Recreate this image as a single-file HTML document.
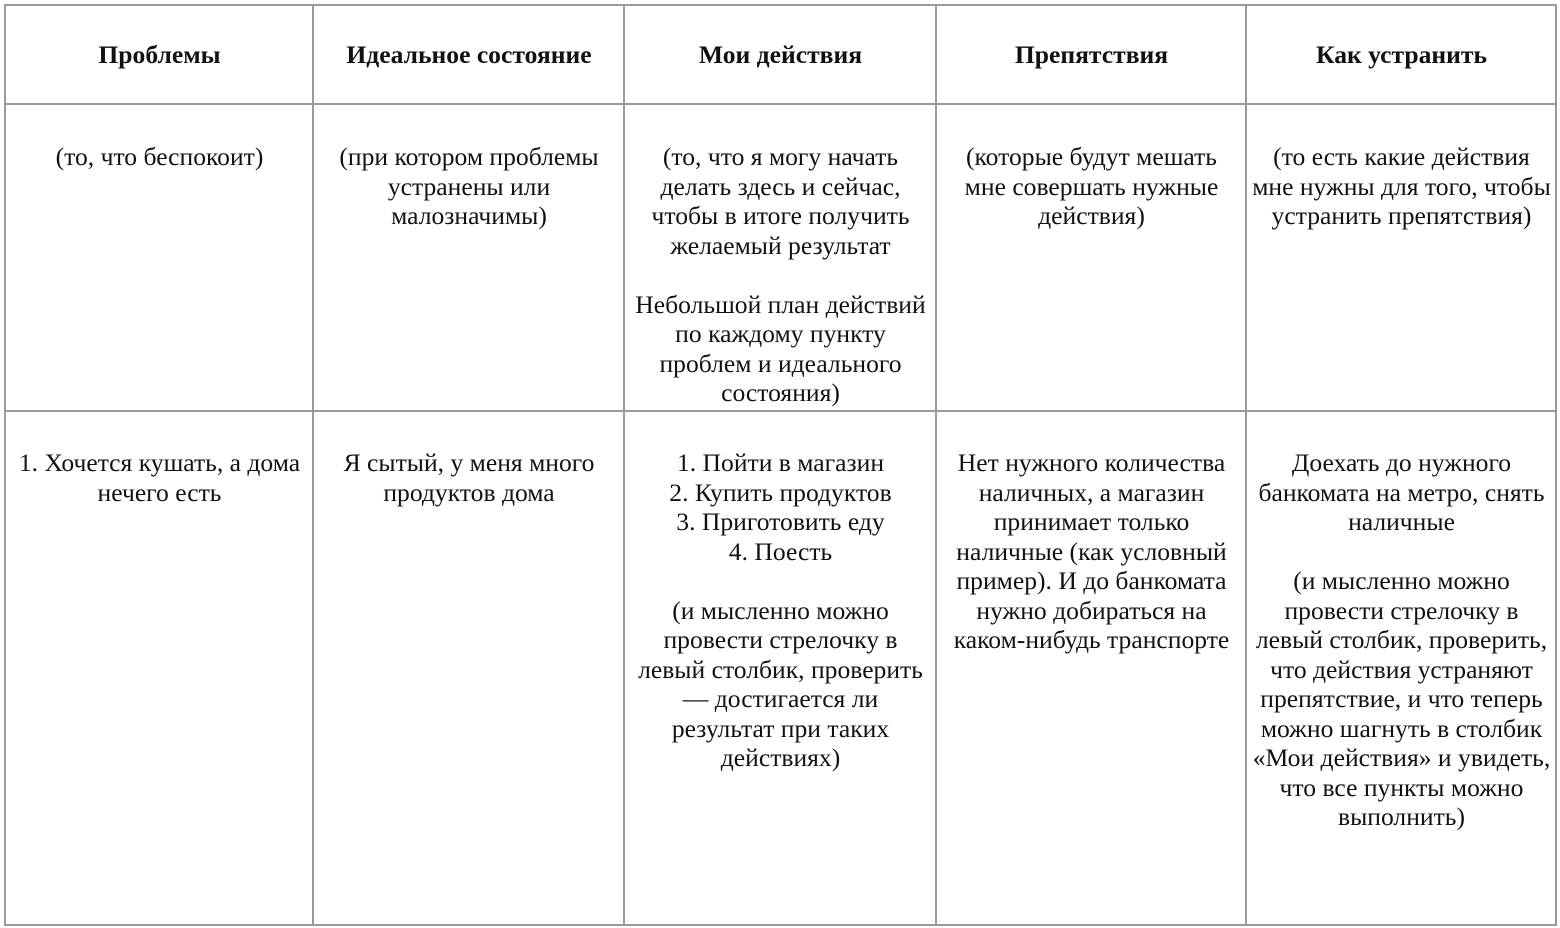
<!DOCTYPE html>
<html><head><meta charset="utf-8"><style>
html,body{margin:0;padding:0;background:#fff;width:1560px;height:928px;overflow:hidden}
.l{position:absolute;background:#9a9a9a}
.c{position:absolute;text-align:center;font-family:"Liberation Serif",serif;font-size:25.6px;line-height:29.5px;color:#111;white-space:nowrap}
.h{font-weight:bold}
</style></head><body>
<div class="l" style="left:5px;top:4px;width:1552px;height:2px"></div>
<div class="l" style="left:5px;top:103px;width:1552px;height:2px"></div>
<div class="l" style="left:5px;top:410px;width:1552px;height:2px"></div>
<div class="l" style="left:5px;top:924px;width:1552px;height:2px"></div>
<div class="l" style="left:4px;top:4px;width:2px;height:922px"></div>
<div class="l" style="left:312px;top:4px;width:2px;height:922px"></div>
<div class="l" style="left:623px;top:4px;width:2px;height:922px"></div>
<div class="l" style="left:935px;top:4px;width:2px;height:922px"></div>
<div class="l" style="left:1245px;top:4px;width:2px;height:922px"></div>
<div class="l" style="left:1555px;top:4px;width:2px;height:922px"></div>

<div class="c h" style="left:6px;width:307px;top:40px">Проблемы</div>
<div class="c h" style="left:314px;width:310px;top:40px">Идеальное состояние</div>
<div class="c h" style="left:625px;width:311px;top:40px">Мои действия</div>
<div class="c h" style="left:937px;width:309px;top:40px">Препятствия</div>
<div class="c h" style="left:1247px;width:309px;top:40px">Как устранить</div>

<div class="c" style="left:6px;width:307px;top:142px">(то, что беспокоит)</div>
<div class="c" style="left:314px;width:310px;top:142px">(при котором проблемы<br>устранены или<br>малозначимы)</div>
<div class="c" style="left:625px;width:311px;top:142px">(то, что я могу начать<br>делать здесь и сейчас,<br>чтобы в итоге получить<br>желаемый результат<br><br>Небольшой план действий<br>по каждому пункту<br>проблем и идеального<br>состояния)</div>
<div class="c" style="left:937px;width:309px;top:142px">(которые будут мешать<br>мне совершать нужные<br>действия)</div>
<div class="c" style="left:1247px;width:309px;top:142px">(то есть какие действия<br>мне нужны для того, чтобы<br>устранить препятствия)</div>

<div class="c" style="left:6px;width:307px;top:448px">1. Хочется кушать, а дома<br>нечего есть</div>
<div class="c" style="left:314px;width:310px;top:448px">Я сытый, у меня много<br>продуктов дома</div>
<div class="c" style="left:625px;width:311px;top:448px">1. Пойти в магазин<br>2. Купить продуктов<br>3. Приготовить еду<br>4. Поесть<br><br>(и мысленно можно<br>провести стрелочку в<br>левый столбик, проверить<br>— достигается ли<br>результат при таких<br>действиях)</div>
<div class="c" style="left:937px;width:309px;top:448px">Нет нужного количества<br>наличных, а магазин<br>принимает только<br>наличные (как условный<br>пример). И до банкомата<br>нужно добираться на<br>каком-нибудь транспорте</div>
<div class="c" style="left:1247px;width:309px;top:448px">Доехать до нужного<br>банкомата на метро, снять<br>наличные<br><br>(и мысленно можно<br>провести стрелочку в<br>левый столбик, проверить,<br>что действия устраняют<br>препятствие, и что теперь<br>можно шагнуть в столбик<br>«Мои действия» и увидеть,<br>что все пункты можно<br>выполнить)</div>
</body></html>
